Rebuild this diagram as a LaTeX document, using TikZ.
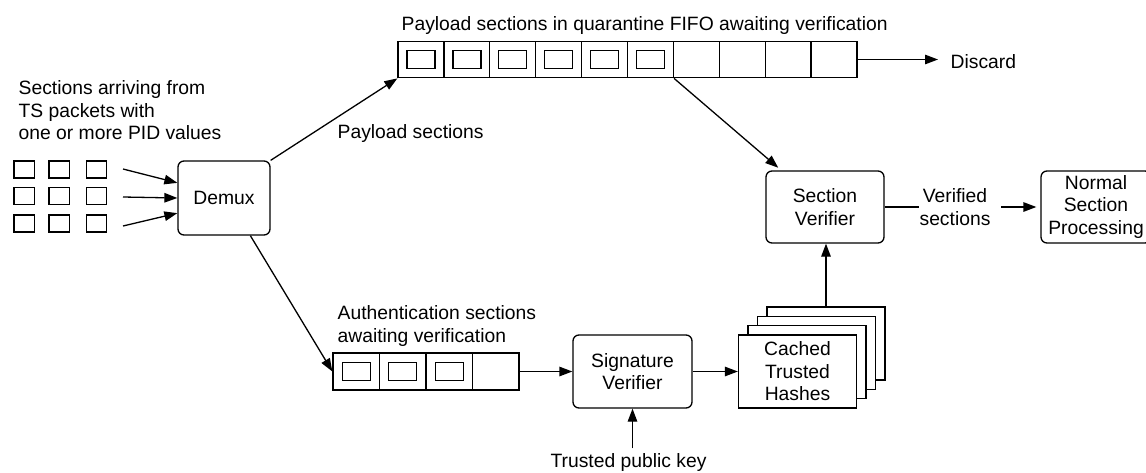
\documentclass[tikz,border=0pt]{standalone}
\usepackage{fontspec}
\setmainfont{Liberation Sans}
\usepackage{tikz}
\usetikzlibrary{arrows.meta}

\tikzset{
  every node/.style={font=\fontsize{19.3pt}{22.5pt}\selectfont},
  proc/.style={draw, rounded corners=6pt, align=center, minimum width=118pt, minimum height=72pt, inner sep=0pt},
  cell/.style={draw, minimum width=45.9pt, minimum height=36.5pt, inner sep=0pt},
  pkt/.style={draw, minimum width=28pt, minimum height=18pt, inner sep=0pt},
  stack/.style={draw, fill=white, align=center, minimum width=118pt, minimum height=73pt, inner sep=0pt},
  arr/.style={-{Triangle[length=13pt,width=9.5pt]}},
}

\begin{document}
\begin{tikzpicture}[x=1pt, y=-1pt, line width=1.3pt]
	\useasboundingbox (0,0) rectangle (1146,472);
	% Define nodes
	\node[anchor=north west, inner sep=0pt, align=left] (intro) at (18,80) {Sections arriving from\\TS packets with\\one or more PID values};
	\foreach \row/\yy in {1/169.5,2/196,3/223.5}
		\foreach \col/\xx in {1/24.2,2/59.3,3/96.4}
			\node[pkt, minimum width=20.5pt, minimum height=17pt] (g\row\col) at (\xx,\yy) {};
	\coordinate (in1) at (123,169);
	\coordinate (in2) at (123,197);
	\coordinate (in3) at (123,226);
	\node[proc, minimum width=92pt, minimum height=74pt] (demux) at (224,198) {Demux};
	% quarantine fifo
	\node[anchor=base west, inner sep=0pt] (fifotitle) at (401,30) {Payload sections in quarantine FIFO awaiting verification};
	\foreach \i in {1,...,10}
		\node[cell] (c\i) at ({398+45.9*(\i-0.5)},59.5) {};
	\foreach \i in {1,...,6}
		\node[pkt] (pc\i) at (c\i) {};
	\node[anchor=base west, inner sep=0pt] (discard) at (950,68) {Discard};
	\node[anchor=base west, inner sep=0pt] (paylbl) at (337,138) {Payload sections};
	% authentication fifo
	\node[anchor=north west, inner sep=0pt, align=left] (authlbl) at (337,305) {Authentication sections\\awaiting verification};
	\foreach \i in {1,...,4}
		\node[cell, minimum width=46.5pt, minimum height=37pt] (b\i) at ({333+46.5*(\i-0.5)},371.5) {};
	\foreach \i in {1,...,3}
		\node[pkt] (pb\i) at (b\i) {};
	\node[proc, minimum width=119pt, minimum height=73pt] (sigver) at (632.5,371.5) {Signature\\Verifier};
	\node[anchor=base, inner sep=0pt] (key) at (628.5,467) {Trusted public key};
	\foreach \k in {3,2,1}
		\node[stack] (hash\k) at ({797.5+9.5*\k},{371.5-9.3*\k}) {};
	\node[stack] (hash0) at (797.5,371.5) {Cached\\Trusted\\Hashes};
	\node[proc] (secver) at (825,207) {Section\\Verifier};
	\node[align=center, inner sep=0pt] (verlbl) at (955,207) {Verified\\sections};
	\node[proc, minimum width=110pt] (normal) at (1096,207) {Normal\\Section\\Processing};
	% Connect the nodes
	\draw[arr] (in1) -- (demux.162);
	\draw[arr] (in2) -- (demux.west);
	\draw[arr] (in3) -- (demux.198);
	\draw[arr] (demux.north east) -- (c1.south west);
	\draw[arr] (demux.-55) -- (b1.west);
	\draw[arr, shorten >=12pt] (c10.east) -- (c10.east -| discard.west);
	\draw[arr, shorten >=4pt] (c6.south east) -- (secver.140);
	\draw[arr] (b4.east) -- (sigver.west);
	\draw[arr] (sigver.east) -- (hash0.west);
	\draw[arr, shorten <=4pt] (sigver.south |- key.north) -- (sigver.south);
	\draw[arr] (hash3.north) -- (hash3.north |- secver.south);
	\draw (secver.east) -- (verlbl.west);
	\draw[arr, shorten <=10pt, shorten >=4pt] (verlbl.east) -- (normal.west);
\end{tikzpicture}
\end{document}
